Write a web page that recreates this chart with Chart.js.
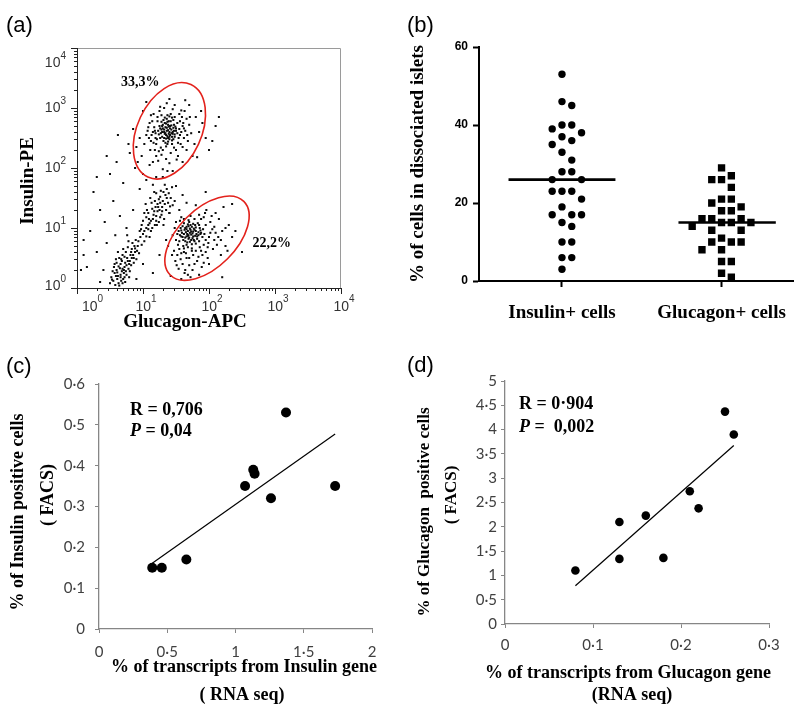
<!DOCTYPE html>
<html>
<head>
<meta charset="utf-8">
<script src="https://cdn.jsdelivr.net/npm/chart.js@4.4.1/dist/chart.umd.min.js"></script>
<style>
  html, body { margin: 0; padding: 0; background: #fff; }
  #page { position: relative; width: 802px; height: 712px; overflow: hidden; }
  canvas { position: absolute; }
</style>
</head>
<body>
<div id="page">
  <canvas id="panelA" width="400" height="340" style="left:0;top:0"></canvas>
  <canvas id="panelB" width="402" height="340" style="left:400px;top:0"></canvas>
  <canvas id="panelC" width="400" height="372" style="left:0;top:340px"></canvas>
  <canvas id="panelD" width="402" height="372" style="left:400px;top:340px"></canvas>
</div>
<script>
// ---- (a) FACS dot plot: events as [log10 Glucagon-APC, log10 Insulin-PE] ----
const insulinPositiveEvents = [
  [1.38,2.63],[1.41,2.70],[1.35,2.55],[1.30,2.66],[1.45,2.60],[1.33,2.75],[1.40,2.48],[1.27,2.58],[1.47,2.72],[1.36,2.82],
  [1.44,2.52],[1.31,2.45],[1.50,2.66],[1.25,2.70],[1.39,2.57],[1.34,2.68],[1.42,2.78],[1.29,2.52],[1.48,2.56],[1.37,2.40],
  [1.43,2.64],[1.32,2.60],[1.46,2.80],[1.28,2.77],[1.40,2.86],[1.35,2.49],[1.52,2.58],[1.23,2.62],[1.38,2.72],[1.44,2.46],
  [1.33,2.84],[1.49,2.69],[1.26,2.50],[1.41,2.55],[1.36,2.62],[1.30,2.72],[1.47,2.62],[1.39,2.78],[1.34,2.42],[1.43,2.71],
  [1.37,2.53],[1.31,2.80],[1.45,2.57],[1.28,2.64],[1.42,2.90],[1.36,2.67],[1.40,2.60],[1.33,2.57],[1.46,2.48],[1.38,2.44],
  [1.52,2.75],[1.24,2.56],[1.35,2.74],[1.41,2.66],[1.29,2.60],[1.44,2.84],[1.37,2.88],[1.32,2.50],[1.48,2.52],[1.39,2.69],
  [1.34,2.58],[1.43,2.58],[1.37,2.77],[1.29,2.70],[1.46,2.67],[1.40,2.52],[1.32,2.64],[1.38,2.50],[1.26,2.66],[1.50,2.62],
  [1.15,2.60],[1.60,2.70],[1.20,2.40],[1.55,2.90],[1.10,2.75],[1.62,2.50],[1.25,2.95],[1.18,2.30],[1.57,2.40],[1.05,2.55],
  [1.66,2.82],[1.22,2.85],[1.50,2.30],[1.12,2.45],[1.58,2.60],[1.30,2.30],[1.45,2.98],[1.08,2.68],[1.64,2.62],[1.20,2.20],
  [1.53,2.20],[1.16,2.90],[1.70,2.72],[1.28,2.22],[1.56,2.78],[1.02,2.40],[1.68,2.45],[1.35,2.15],[1.14,2.78],[1.60,2.35],
  [1.26,3.02],[1.48,3.05],[1.19,2.50],[1.54,2.50],[1.11,2.30],[1.63,2.95],[1.42,2.25],[1.23,2.12],[1.59,2.85],[1.07,2.62],
  [1.73,2.58],[1.32,3.00],[1.17,2.68],[1.51,2.14],[1.66,2.30],[1.21,2.48],[1.61,2.75],[1.27,2.34],[1.55,2.65],[1.13,2.55],
  [1.35,2.36],[1.48,2.85],[1.22,2.78],[1.56,2.55],[1.19,2.58],[1.44,2.40],[1.28,2.88],[1.53,2.42],[1.16,2.42],[1.62,2.66],
  [1.24,2.28],[1.58,2.96],[1.09,2.50],[1.67,2.55],[1.40,2.08],[1.36,3.08],[1.12,2.88],[1.71,2.85],[1.47,2.34],[1.18,2.62],
  [0.95,2.50],[1.80,2.85],[0.98,2.20],[1.85,2.60],[1.00,2.95],[1.75,2.20],[0.90,2.35],[1.90,2.75],[1.10,2.05],[1.70,3.05],
  [1.05,3.10],[1.95,2.50],[0.85,2.65],[1.78,2.40],[1.30,1.98],[1.60,2.10],[0.92,2.10],[1.88,2.95],[1.45,1.95],[2.05,2.45],
  [1.82,2.18],[0.80,2.25],[1.40,3.15],[2.10,2.70],[1.00,1.90]
];
const glucagonPositiveEvents = [
  [1.71,0.92],[1.66,0.98],[1.76,0.86],[1.62,0.90],[1.80,0.95],[1.69,0.82],[1.74,1.02],[1.58,0.96],[1.84,0.88],[1.68,1.06],
  [1.78,0.78],[1.64,0.84],[1.72,0.97],[1.86,1.00],[1.60,1.03],[1.75,0.91],[1.67,0.76],[1.82,0.82],[1.70,1.10],[1.56,0.88],
  [1.79,1.05],[1.65,0.93],[1.73,0.80],[1.88,0.92],[1.61,0.80],[1.77,0.99],[1.69,0.88],[1.83,1.08],[1.54,0.95],[1.74,0.73],
  [1.66,1.02],[1.81,0.90],[1.63,0.97],[1.76,0.94],[1.70,0.84],[1.90,0.85],[1.58,0.86],[1.72,1.05],[1.85,0.78],[1.67,0.90],
  [1.79,0.87],[1.62,1.08],[1.75,0.83],[1.68,0.95],[1.87,0.96],[1.64,0.78],[1.73,0.89],[1.80,1.01],[1.59,0.92],[1.77,0.80],
  [1.71,0.99],[1.84,0.93],[1.66,0.86],[1.93,0.90],[1.69,1.03],
  [1.73,0.94],[1.68,0.87],[1.78,0.97],[1.64,1.00],[1.82,0.86],[1.71,0.77],[1.76,1.07],[1.60,0.85],[1.87,0.90],[1.66,0.72],
  [1.80,0.74],[1.57,1.00],[1.91,0.98],[1.69,1.13],[1.85,1.05],[1.55,0.78],[1.95,0.80],[1.62,0.66],[1.74,0.66],[2.02,0.92],
  [1.50,0.80],[1.95,1.05],[1.55,0.65],[2.00,0.85],[1.62,0.60],[1.92,0.72],[1.48,1.00],[2.05,0.98],[1.58,1.18],[1.88,1.15],
  [1.52,0.55],[1.98,0.68],[1.66,0.50],[1.80,0.62],[1.45,0.88],[2.08,0.80],[1.72,1.20],[1.60,0.40],[1.90,0.55],[1.53,0.72],
  [2.02,1.10],[1.76,0.55],[1.47,0.62],[1.85,1.22],[1.64,0.30],[1.95,0.60],[1.57,0.48],[2.10,0.92],[1.70,0.38],[1.82,0.45],
  [1.50,1.10],[1.99,0.75],[1.61,0.70],[1.86,0.68],[1.74,0.62],[1.54,0.32],[2.06,0.65],[1.68,0.68],[1.92,1.18],[1.56,1.12],
  [1.78,0.40],[2.14,0.85],[1.63,0.25],[1.89,0.35],[1.49,0.45],
  [1.52,0.90],[1.88,0.62],[1.78,1.15],[1.65,0.58],[2.08,1.02],[1.98,0.50],[1.70,0.50],[1.58,0.58],[2.12,0.72],[1.84,0.52],
  [1.92,0.42],[1.62,1.15],[2.04,1.20],[1.75,0.30],[1.51,0.38],[2.18,0.80],[1.44,0.55],[1.94,1.25],[1.68,0.22],[2.25,1.00],
  [2.20,0.95],[2.25,0.70],[1.42,0.20],[2.15,1.15],[1.72,0.18],[2.30,1.05],[2.00,0.40],[1.40,1.25],[2.18,0.55],[1.96,1.30],
  [2.35,0.85],[1.58,0.15],[2.10,1.25],[1.85,0.22],[2.28,0.62],[1.38,0.70],[2.40,0.95],[1.80,1.38],[2.22,1.35],[1.66,1.42]
];
const doubleNegativeEvents = [
  [0.62,0.20],[0.68,0.28],[0.55,0.12],[0.72,0.35],[0.60,0.30],[0.75,0.22],[0.66,0.40],[0.58,0.05],[0.80,0.45],[0.70,0.15],
  [0.64,0.50],[0.78,0.32],[0.52,0.18],[0.85,0.55],[0.73,0.42],[0.63,0.08],[0.82,0.38],[0.69,0.55],[0.57,0.25],[0.76,0.50],
  [0.88,0.60],[0.67,0.12],[0.80,0.28],[0.60,0.42],[0.74,0.60],[0.90,0.48],[0.65,0.33],[0.83,0.65],[0.71,0.25],[0.56,0.35],
  [0.79,0.18],[0.92,0.70],[0.68,0.45],[0.86,0.42],[0.62,0.60],[0.77,0.68],[0.50,0.08],[0.94,0.58],[0.73,0.10],[0.84,0.75],
  [0.61,0.15],[0.70,0.65],[0.89,0.80],[0.66,0.22],[0.81,0.55],[0.54,0.28],[0.96,0.85],[0.75,0.38],[0.87,0.70],[0.59,0.48],
  [0.72,0.52],[0.98,0.72],[0.64,0.04],[0.78,0.78],[0.91,0.62],[0.69,0.32],[0.83,0.50],[0.57,0.40],[0.95,0.95],[0.76,0.88],
  [0.66,0.18],[0.71,0.30],[0.63,0.36],[0.77,0.45],[0.69,0.08],[0.59,0.20],[0.82,0.60],[0.74,0.28],[0.86,0.50],[0.61,0.26],
  [0.79,0.40],[0.67,0.48],[0.88,0.66],[0.72,0.18],[0.53,0.14],[0.93,0.78],
  [1.00,0.90],[1.05,1.00],[0.98,1.05],[1.10,1.08],[1.02,0.78],[1.15,1.15],[1.08,1.25],[1.20,1.20],[1.12,0.95],[1.25,1.30],
  [1.18,1.05],[1.05,1.18],[1.22,1.40],[1.28,1.22],[1.14,1.32],[1.30,1.45],[1.24,1.10],[1.10,0.85],[1.35,1.30],[1.18,1.45],
  [1.26,1.52],[1.32,1.15],[1.06,1.30],[1.20,1.58],[1.38,1.42],[1.16,1.22],[1.29,1.35],[1.00,1.12],[1.34,1.55],[1.22,1.28],
  [1.13,1.42],[1.40,1.25],[1.27,1.62],[1.08,0.98],[1.36,1.65],[1.19,1.35],[1.31,1.05],[1.04,1.40],[1.42,1.50],[1.24,1.48],
  [0.97,0.98],[1.45,1.38],[1.17,1.60],[1.33,1.72],[1.11,1.50],[1.26,1.18],[1.48,1.45],[1.21,1.05],[1.39,1.58],[1.09,1.15],
  [1.44,1.68],[1.30,1.85],[1.15,1.72],[1.02,1.25],[1.37,1.95],
  [1.12,1.12],[1.23,1.35],[1.17,1.28],[1.29,1.28],[1.08,1.05],[1.33,1.40],[1.20,1.12],[1.26,1.42],[1.14,1.00],[1.36,1.50],
  [1.02,0.95],[1.31,1.60],[1.05,0.86],[1.41,1.36]
];
const strayEvents = [
  [0.30,0.60],[0.20,0.95],[0.42,1.10],[0.15,0.35],[0.35,1.30],[0.45,0.75],[0.25,1.60],[0.55,1.45],[0.40,0.30],[0.65,1.20],
  [0.70,1.75],[0.50,1.90],[0.85,1.30],[0.60,2.10],[0.95,1.65],[0.78,2.40],[1.05,1.80],[0.88,2.00],[1.50,1.70],[1.60,1.55],
  [1.20,1.85],[1.55,1.30],[0.35,0.10],[0.10,0.80],[0.75,1.00],[0.45,2.20],[1.15,2.10],[1.95,1.60],[2.35,1.40],[2.50,0.60],
  [2.20,0.18],[0.90,0.15],[1.00,0.40],[1.25,0.55],[1.15,0.25],[0.30,1.85],[0.62,2.55],[0.06,0.30],[0.10,0.55],[1.35,0.80],
  [0.58,0.88],[1.64,3.13],[2.00,2.30],[2.15,2.85]
];
const flowDecades = [0, 1, 2, 3, 4];
// gates: centre in log10 units, radii in px, tilt in degrees from vertical
const flowGates = [
  { label: '33,3%', lx: 1.40, ly: 2.62, rx: 32, ry: 51, tilt: 25, labelLx: 0.96, labelLy: 3.42 },
  { label: '22,2%', lx: 1.97, ly: 0.83, rx: 29, ry: 52, tilt: 45, labelLx: 2.95, labelLy: 0.75 },
];

// ---- (b) % of cells in dissociated islets ----
const groupNames = ['Insulin+ cells', 'Glucagon+ cells'];
const insulinPct = [53, 46, 45, 40, 40, 39, 38, 37, 36, 35, 33, 31, 28, 28, 26, 26, 23, 23, 23, 21, 19, 17, 17, 17, 15, 14, 10, 10, 6, 6, 3];
const glucagonPct = [29, 27, 26, 26, 24, 21, 21, 20, 19, 18, 18, 16, 16, 16, 15, 15, 15, 14, 13, 13, 11, 10, 10, 10, 8, 8, 5, 5, 2, 1];
const groupMeans = [26, 15];
const pctTicks = [0, 20, 40, 60];

// ---- (c) insulin: RNA seq vs FACS ----
const insulinRna = [0.39, 0.46, 0.64, 1.07, 1.13, 1.14, 1.26, 1.37, 1.73];
const insulinFacs = [0.15, 0.15, 0.17, 0.35, 0.39, 0.38, 0.32, 0.53, 0.35];
const insulinTicksX = [0, 0.5, 1, 1.5, 2];
const insulinTicksY = [0, 0.1, 0.2, 0.3, 0.4, 0.5, 0.6];

// ---- (d) glucagon: RNA seq vs FACS ----
const glucagonRna = [0.08, 0.13, 0.13, 0.16, 0.18, 0.21, 0.22, 0.25, 0.26];
const glucagonFacs = [1.10, 2.10, 1.34, 2.23, 1.36, 2.73, 2.38, 4.37, 3.90];
const glucagonTicksX = [0, 0.1, 0.2, 0.3];
const glucagonTicksY = [0, 0.5, 1, 1.5, 2, 2.5, 3, 3.5, 4, 4.5, 5];

const SERIF = '"Liberation Serif", "Times New Roman", serif';
const SANS = '"Liberation Sans", Arial, sans-serif';
const serifBold = size => `bold ${size}px ${SERIF}`;
const TAG_FONT = `22px ${SANS}`;

// Free text (panel letters, axis titles, stats). Chart.js scale titles squeeze long
// text to the axis length, so these are drawn here at fixed spots instead.
function captions(items) {
  return {
    id: 'captions',
    afterDraw(chart) {
      const ctx = chart.ctx;
      ctx.save();
      ctx.fillStyle = '#000';
      ctx.textBaseline = 'middle';
      ctx.textAlign = 'left';
      for (const it of items) {
        const parts = it.parts || [{ text: it.text, font: it.font }];
        ctx.save();
        ctx.translate(it.x, it.y);
        if (it.rotate) ctx.rotate(-Math.PI / 2);
        let w = 0;
        parts.forEach(p => { ctx.font = p.font; w += ctx.measureText(p.text).width; });
        let cx = it.align === 'left' ? 0 : -w / 2;
        parts.forEach(p => {
          ctx.font = p.font;
          ctx.fillText(p.text, cx, 0);
          cx += ctx.measureText(p.text).width;
        });
        ctx.restore();
      }
      ctx.restore();
    },
  };
}

const dotDecimal = v => String(+Number(v).toFixed(2)).replace('.', '·');
const fixedTicks = list => scale => { scale.ticks = list.map(value => ({ value })); };

function fitLine(xs, ys) {
  const n = xs.length;
  const mx = xs.reduce((a, b) => a + b, 0) / n;
  const my = ys.reduce((a, b) => a + b, 0) / n;
  let sxy = 0, sxx = 0;
  xs.forEach((x, i) => { sxy += (x - mx) * (ys[i] - my); sxx += (x - mx) * (x - mx); });
  const slope = sxy / sxx, icpt = my - slope * mx;
  const x0 = Math.min(...xs), x1 = Math.max(...xs);
  return [{ x: x0, y: icpt + slope * x0 }, { x: x1, y: icpt + slope * x1 }];
}

// GraphPad-style column scatter: go down the (sorted) values and nudge each dot sideways in
// 5 px steps until it clears the dots already placed.
function swarm(values, center) {
  const pxPerX = 163, pxPerY = 234 / 60, step = 5, gap = 9.5;
  const placed = [];
  return values.map(v => {
    const py = v * pxPerY;
    for (let k = 0; k < 40; k++) {
      const dx = (k % 2 ? 1 : -1) * Math.ceil(k / 2) * step;
      if (placed.every(p => Math.hypot(p.dx - dx, p.py - py) >= gap)) {
        placed.push({ dx, py });
        return { x: center + dx / pxPerX, y: v };
      }
    }
    return { x: center, y: v };
  });
}

const common = {
  responsive: false,
  animation: false,
  devicePixelRatio: 1,
  events: [],
};
const noLegend = { legend: { display: false }, tooltip: { enabled: false } };

// ---------------- (a) ----------------
const flowAxes = {
  id: 'flowAxes',
  afterDatasetsDraw(chart) {
    const { ctx, chartArea: a, scales: { x, y } } = chart;
    ctx.save();
    ctx.strokeStyle = '#e3221c';
    ctx.lineWidth = 1.6;
    for (const g of flowGates) {
      ctx.beginPath();
      ctx.ellipse(x.getPixelForValue(10 ** g.lx), y.getPixelForValue(10 ** g.ly), g.rx, g.ry, g.tilt * Math.PI / 180, 0, 2 * Math.PI);
      ctx.stroke();
    }
    ctx.fillStyle = '#000';
    ctx.font = serifBold(14);
    ctx.textAlign = 'center';
    ctx.textBaseline = 'middle';
    for (const g of flowGates) {
      ctx.fillText(g.label, x.getPixelForValue(10 ** g.labelLx), y.getPixelForValue(10 ** g.labelLy));
    }

    ctx.lineWidth = 1;
    ctx.strokeStyle = '#9a9a9a';
    ctx.beginPath();
    ctx.moveTo(a.left, a.top + 0.5);
    ctx.lineTo(a.right - 0.5, a.top + 0.5);
    ctx.lineTo(a.right - 0.5, a.bottom);
    ctx.stroke();
    ctx.strokeStyle = '#222';
    ctx.beginPath();
    ctx.moveTo(a.left + 0.5, a.top);
    ctx.lineTo(a.left + 0.5, a.bottom + 0.5);
    ctx.lineTo(a.right, a.bottom + 0.5);
    for (const d of flowDecades) {
      for (let m = 1; m <= (d === 4 ? 1 : 9); m++) {
        const len = m === 1 ? 6 : 3;
        const py = Math.round(y.getPixelForValue(m * 10 ** d)) + 0.5;
        ctx.moveTo(a.left - len, py);
        ctx.lineTo(a.left, py);
        const px = Math.round(x.getPixelForValue(m * 10 ** d)) + 0.5;
        ctx.moveTo(px, a.bottom);
        ctx.lineTo(px, a.bottom + len);
      }
    }
    ctx.stroke();

    const base = `14px ${SANS}`, sup = `10px ${SANS}`;
    ctx.fillStyle = '#333';
    ctx.textAlign = 'left';
    for (const d of flowDecades) {
      ctx.font = base;
      const wb = ctx.measureText('10').width;
      ctx.font = sup;
      const ws = ctx.measureText(String(d)).width;
      const py = Math.min(Math.max(y.getPixelForValue(10 ** d), a.top + 15), a.bottom - 2);
      const right = a.left - 11;
      ctx.font = base;
      ctx.fillText('10', right - ws - wb, py);
      ctx.font = sup;
      ctx.fillText(String(d), right - ws, py - 7);
      const lx = Math.max(x.getPixelForValue(10 ** d) + 3 - (wb + ws) / 2, a.left + 5);
      ctx.font = base;
      ctx.fillText('10', lx, a.bottom + 19);
      ctx.font = sup;
      ctx.fillText(String(d), lx + wb, a.bottom + 11);
    }
    ctx.restore();
  },
};

const toEvents = list => list.map(([lx, ly]) => ({ x: 10 ** lx, y: 10 ** ly }));

new Chart(document.getElementById('panelA'), {
  type: 'scatter',
  data: {
    datasets: [insulinPositiveEvents, glucagonPositiveEvents, doubleNegativeEvents, strayEvents].map(list => ({
      data: toEvents(list),
      pointStyle: 'rect',
      pointRadius: 1.45,
      backgroundColor: '#0d0d0d',
      borderWidth: 0,
    })),
  },
  options: {
    ...common,
    layout: { padding: { left: 77, top: 48, right: 59, bottom: 52 } },
    plugins: noLegend,
    scales: {
      x: { type: 'logarithmic', min: 1, max: 10000, display: false },
      y: { type: 'logarithmic', min: 1, max: 10000, display: false },
    },
  },
  plugins: [flowAxes, captions([
    { text: '(a)', font: TAG_FONT, x: 6, y: 26, align: 'left' },
    { text: 'Insulin-PE', font: serifBold(19), x: 28, y: 181, rotate: true },
    { text: 'Glucagon-APC', font: serifBold(19), x: 185, y: 322 },
  ])],
});

// ---------------- (b) ----------------
const blackAxis = {
  grid: { drawOnChartArea: false, tickLength: 6, tickWidth: 2, tickColor: '#000' },
  border: { color: '#000', width: 2 },
};

new Chart(document.getElementById('panelB'), {
  type: 'scatter',
  data: {
    datasets: [
      { data: swarm(insulinPct, 0), pointStyle: 'circle', pointRadius: 3.7, backgroundColor: '#000', borderWidth: 0 },
      { data: swarm(glucagonPct, 1), pointStyle: 'rect', pointRadius: 5.2, backgroundColor: '#000', borderWidth: 0 },
      { type: 'line', data: [{ x: -0.335, y: groupMeans[0] }, { x: 0.335, y: groupMeans[0] }],
        borderColor: '#000', borderWidth: 2.6, pointRadius: 0 },
      { type: 'line', data: [{ x: 0.73, y: groupMeans[1] }, { x: 1.34, y: groupMeans[1] }],
        borderColor: '#000', borderWidth: 2.6, pointRadius: 0 },
    ],
  },
  options: {
    ...common,
    layout: { padding: { left: 0, top: 47, right: 4, bottom: 0 } },
    plugins: noLegend,
    scales: {
      x: {
        type: 'linear', min: -0.52, max: 1.45,
        afterBuildTicks: fixedTicks([0, 1]),
        afterFit: s => { s.height = 59; },
        ticks: { callback: v => groupNames[v], font: { family: SERIF, size: 19, weight: 'bold' },
                 color: '#000', padding: 15, maxRotation: 0, autoSkip: false },
        ...blackAxis,
      },
      y: {
        min: 0, max: 60,
        afterBuildTicks: fixedTicks(pctTicks),
        afterFit: s => { s.width = 79; },
        ticks: { font: { family: SANS, size: 12, weight: 'bold' }, color: '#000', padding: 5 },
        ...blackAxis,
      },
    },
  },
  plugins: [captions([
    { text: '(b)', font: TAG_FONT, x: 7, y: 26, align: 'left' },
    { text: '% of cells in dissociated islets', font: serifBold(19), x: 18, y: 164, rotate: true },
  ])],
});

// ---------------- (c) & (d) ----------------
function excelAxis(ticks, size, pad) {
  return {
    min: ticks[0], max: ticks[ticks.length - 1],
    afterBuildTicks: fixedTicks(ticks),
    afterFit: s => { if (s.isHorizontal()) s.height = size; else s.width = size; },
    ticks: { callback: dotDecimal, font: { family: 'Lato, "Open Sans", sans-serif', size: 15 }, color: '#404040', padding: pad },
    grid: { drawOnChartArea: false, tickLength: 4, tickColor: '#868686', tickWidth: 1 },
    border: { color: '#868686', width: 1.3 },
  };
}

function correlationChart(id, xs, ys, ticksX, ticksY, geom, radius, texts) {
  new Chart(document.getElementById(id), {
    type: 'scatter',
    data: {
      datasets: [
        { data: xs.map((x, i) => ({ x, y: ys[i] })), pointRadius: radius, backgroundColor: '#000', borderWidth: 0 },
        { type: 'line', data: fitLine(xs, ys), borderColor: '#000', borderWidth: 1.2, pointRadius: 0 },
      ],
    },
    options: {
      ...common,
      layout: { padding: { left: 0, top: geom.top, right: geom.right, bottom: 0 } },
      plugins: noLegend,
      scales: {
        x: excelAxis(ticksX, geom.xHeight, geom.xPad),
        y: excelAxis(ticksY, geom.yWidth, geom.yPad),
      },
    },
    plugins: [captions(texts)],
  });
}

correlationChart('panelC', insulinRna, insulinFacs, insulinTicksX, insulinTicksY,
  { top: 44, right: 28, xHeight: 83, yWidth: 99, xPad: 10, yPad: 10 }, 5, [
    { text: '(c)', font: TAG_FONT, x: 6, y: 27, align: 'left' },
    { text: '% of Insulin positive cells', font: serifBold(18), x: 18, y: 172, rotate: true },
    { text: '( FACS)', font: serifBold(18), x: 48, y: 155, rotate: true },
    { text: '% of transcripts from Insulin gene', font: serifBold(18), x: 244, y: 327 },
    { text: '( RNA seq)', font: serifBold(18), x: 242, y: 355 },
    { text: 'R = 0,706', font: serifBold(18), x: 130, y: 70, align: 'left' },
    { parts: [{ text: 'P', font: `italic bold 18px ${SERIF}` }, { text: ' = 0,04', font: serifBold(18) }], x: 130, y: 91, align: 'left' },
  ]);

correlationChart('panelD', glucagonRna, glucagonFacs, glucagonTicksX, glucagonTicksY,
  { top: 41, right: 33, xHeight: 88, yWidth: 105, xPad: 8, yPad: 4 }, 4.3, [
    { text: '(d)', font: TAG_FONT, x: 7, y: 26, align: 'left' },
    { text: '% of Glucagon  positive cells', font: serifBold(17), x: 25, y: 172, rotate: true },
    { text: '( FACS)', font: serifBold(17), x: 52, y: 155, rotate: true },
    { text: '% of transcripts from Glucagon gene', font: serifBold(18), x: 228, y: 333 },
    { text: '(RNA seq)', font: serifBold(18), x: 232, y: 355 },
    { text: 'R = 0·904', font: serifBold(18), x: 119, y: 64, align: 'left' },
    { parts: [{ text: 'P', font: `italic bold 18px ${SERIF}` }, { text: ' =  0,002', font: serifBold(18) }], x: 119, y: 87, align: 'left' },
  ]);
</script>
</body>
</html>
